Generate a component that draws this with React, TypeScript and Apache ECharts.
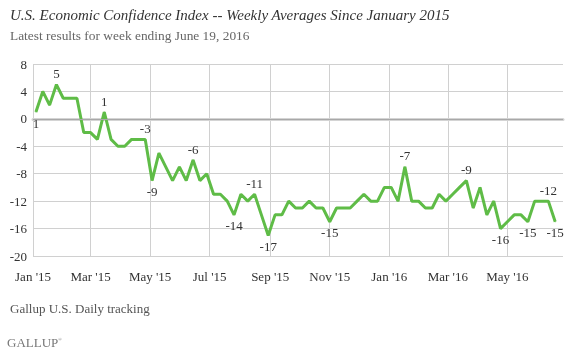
import React, { useEffect, useRef } from "react";
import * as echarts from "echarts";

const TITLE = "U.S. Economic Confidence Index -- Weekly Averages Since January 2015";
const SUBTITLE = "Latest results for week ending June 19, 2016";
const SOURCE = "Gallup U.S. Daily tracking";

const AXIS_START = "2015-01-01";
const AXIS_END = "2016-06-27";
const FIRST_WEEK = "2015-01-04";

const tickDates = [
  "2015-01-01", "2015-03-01", "2015-05-01", "2015-07-01", "2015-09-01",
  "2015-11-01", "2016-01-01", "2016-03-01", "2016-05-01",
];
const tickLabels = [
  "Jan '15", "Mar '15", "May '15", "Jul '15", "Sep '15",
  "Nov '15", "Jan '16", "Mar '16", "May '16",
];

const yTicks = [-20, -16, -12, -8, -4, 0, 4, 8];

const weeklyValues = [
  1, 4, 2, 5, 3, 3, 3, -2, -2, -3, 1, -3, -4, -4, -3, -3, -3,
  -9, -5, -7, -9, -7, -9, -6, -9, -8, -11, -11,
  -12, -14, -11, -12, -11, -14, -17, -14, -14, -12, -13, -13, -12,
  -13, -13, -15, -13, -13, -13, -12, -11, -12, -12,
  -10, -10, -12, -7, -12, -12, -13, -13, -11, -12,
  -11, -10, -9, -13, -10, -14, -12, -16, -15, -14,
  -14, -15, -12, -12, -12, -15,
];

// week index -> label position
const labelledWeeks: [number, "top" | "bottom"][] = [
  [0, "bottom"], [3, "top"], [10, "top"], [16, "top"], [17, "bottom"],
  [23, "top"], [29, "bottom"], [32, "top"], [34, "bottom"], [43, "bottom"],
  [54, "top"], [63, "top"], [68, "bottom"], [72, "bottom"], [75, "top"], [76, "bottom"],
];

const DAY = 86400000;
const toMs = (s: string) => Date.parse(s + "T00:00:00Z");
const fmt = (ms: number) => new Date(ms).toISOString().slice(0, 10);

export default function App() {
  const ref = useRef<HTMLDivElement>(null);

  useEffect(() => {
    if (!ref.current) return;
    const chart = echarts.init(ref.current, undefined, { renderer: "svg" });

    const startMs = toMs(AXIS_START);
    const nDays = Math.round((toMs(AXIS_END) - startMs) / DAY) + 1;
    const days: string[] = [];
    for (let d = 0; d < nDays; d++) days.push(fmt(startMs + d * DAY));

    const firstIdx = Math.round((toMs(FIRST_WEEK) - startMs) / DAY);
    const labelMap = new Map(labelledWeeks);
    const data = weeklyValues.map((v, i) => {
      const pos = labelMap.get(i);
      const item: any = { value: [firstIdx + 7 * i, v] };
      if (pos) {
        item.label = { show: true, position: pos };
      }
      return item;
    });

    const isTick = (_i: number, val: string) => tickDates.indexOf(val) >= 0;
    const font = "'Liberation Serif', serif";
    const green = "#5FBC47";

    chart.setOption({
      animation: false,
      grid: { left: 33, top: 64, width: 530, height: 192, containLabel: false },
      xAxis: {
        type: "category",
        data: days,
        boundaryGap: false,
        offset: 2,
        axisLine: { show: true, lineStyle: { color: "#d4d4d4", width: 3 } },
        axisTick: { show: false },
        axisLabel: {
          interval: isTick,
          formatter: (val: string) => tickLabels[tickDates.indexOf(val)] ?? "",
          color: "#333",
          fontFamily: font,
          fontSize: 13,
          margin: 12,
        },
        splitLine: {
          show: true,
          interval: isTick,
          lineStyle: { color: "#d0d0d0", width: 1 },
        },
      },
      yAxis: {
        type: "value",
        min: yTicks[0],
        max: yTicks[yTicks.length - 1],
        interval: 4,
        axisLine: { show: false },
        axisTick: { show: false },
        axisLabel: { color: "#333", fontFamily: font, fontSize: 13, margin: 6 },
        splitLine: { show: true, lineStyle: { color: "#d0d0d0", width: 1 } },
      },
      series: [
        {
          type: "line",
          data: [],
          z: 1,
          silent: true,
          markLine: {
            silent: true,
            symbol: "none",
            label: { show: false },
            lineStyle: { color: "#a8a8a8", width: 1, type: "solid" },
            data: [{ yAxis: 0 }],
          },
        },
        {
          type: "line",
          data,
          z: 3,
          symbol: "circle",
          symbolSize: 1,
          showSymbol: true,
          showAllSymbol: true,
          itemStyle: { color: green },
          lineStyle: { color: green, width: 3 },
          label: {
            show: false,
            color: "#333",
            fontFamily: font,
            fontSize: 13,
            distance: 4,
            formatter: (p: any) => String(p.value[1]),
          },
          labelLayout: { hideOverlap: false },
          emphasis: { disabled: true },
        },
      ],
      graphic: [
        {
          type: "text",
          left: 10,
          top: 7,
          style: { text: TITLE, font: `italic 15px ${font}`, fill: "#333" },
        },
        {
          type: "text",
          left: 10,
          top: 29,
          style: { text: SUBTITLE, font: `13.4px ${font}`, fill: "#666" },
        },
        {
          type: "text",
          left: 10,
          top: 302,
          style: { text: SOURCE, font: `13px ${font}`, fill: "#555" },
        },
        {
          type: "text",
          left: 7,
          top: 336,
          style: { text: "GALLUP", font: `13px ${font}`, fill: "#777" },
        },
        {
          type: "text",
          left: 58,
          top: 337,
          style: { text: "®", font: `5px ${font}`, fill: "#777" },
        },
      ],
    });

    return () => chart.dispose();
  }, []);

  return (
    <div
      ref={ref}
      style={{ position: "fixed", left: 0, top: 0, width: 570, height: 354 }}
    />
  );
}
